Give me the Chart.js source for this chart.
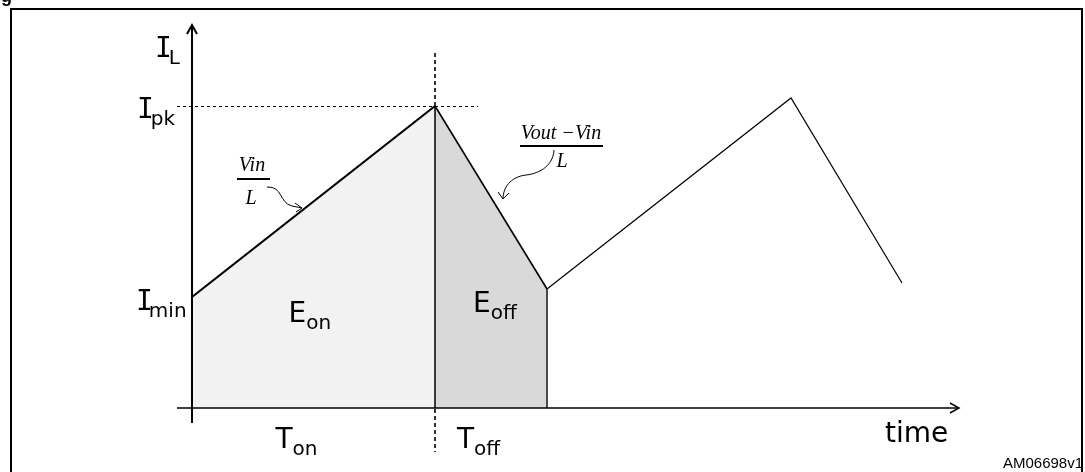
<!DOCTYPE html>
<html>
<head>
<meta charset="utf-8">
<script src="https://cdn.jsdelivr.net/npm/chart.js@4"></script>
<style>
  html, body { margin: 0; padding: 0; background: #fff; }
  #wrap { width: 1085px; height: 472px; position: relative; }
</style>
</head>
<body>
<div id="wrap"><canvas id="inductorChart"></canvas></div>
<script>
// Inductor current waveform: switch-on ramp, switch-off ramp, next cycle
const timePts = [0, 2.43, 3.55, 5.99, 7.10];
const currentPts = [1.11, 3.02, 1.19, 3.10, 1.25];
const segWidths = [2.2, 1.6, 1.2, 1.2];

// axis window (time units, current units)
const xRange = [-1.92, 8.93];
const yRange = [-0.64, 4.08];

// label texts
const levelLabels = [['I', 'L'], ['I', 'pk'], ['I', 'min']];
const energyLabels = [['E', 'on'], ['E', 'off']];
const phaseLabels = [['T', 'on'], ['T', 'off']];
const timeLabel = 'time';
const figCode = 'AM06698v1';

const pts = timePts.map((t, i) => ({ x: t, y: currentPts[i] }));
const Ton = timePts[1], Toff = timePts[2];
const Ipk = currentPts[1], Imin = currentPts[0];

const MAIN = "28px 'DejaVu Sans'";
const SUB = "20px 'DejaVu Sans'";
const MONO = "28px 'DejaVu Sans Mono'";

function label(ctx, x, y, main, sub, mainFont, subGap) {
  ctx.font = mainFont || MAIN;
  ctx.fillText(main, x, y);
  const w = ctx.measureText(main).width;
  ctx.font = SUB;
  ctx.fillText(sub, x + w + (subGap || 0), y + 7);
}

function arrowHead(ctx, tx, ty, ax, ay, bx, by) {
  ctx.beginPath();
  ctx.moveTo(ax, ay);
  ctx.lineTo(tx, ty);
  ctx.lineTo(bx, by);
  ctx.stroke();
}

function dashed(ctx, x1, y1, x2, y2, dash, width) {
  ctx.setLineDash(dash);
  ctx.lineWidth = width;
  ctx.beginPath();
  ctx.moveTo(x1, y1);
  ctx.lineTo(x2, y2);
  ctx.stroke();
  ctx.setLineDash([]);
}

const diagramPlugin = {
  id: 'diagram',
  afterDatasetsDraw(chart) {
    const ctx = chart.ctx;
    const xs = chart.scales.x, ys = chart.scales.y;
    const px = v => xs.getPixelForValue(v);
    const py = v => ys.getPixelForValue(v);
    const x0 = px(0), yb = py(0), xOn = px(Ton), xOff = px(Toff), yPk = py(Ipk), yMin = py(Imin);
    ctx.save();
    ctx.strokeStyle = '#000';
    ctx.fillStyle = '#000';
    ctx.lineCap = 'butt';

    // frame
    ctx.lineWidth = 2;
    ctx.strokeRect(11, 9, 1071, 470);
    ctx.font = "bold 18px 'Liberation Sans'";
    ctx.fillText('g', 1, 2);

    // dashed guides: peak level, and the switching instant above the peak / below the axis
    dashed(ctx, px(-0.15), yPk + 0.5, px(2.86), yPk + 0.5, [3, 3], 1);
    dashed(ctx, xOn, py(3.55), xOn, yPk, [4, 3], 1.6);
    dashed(ctx, xOn, yb + 1, xOn, py(-0.44), [4, 3], 1.6);

    // axes
    ctx.lineWidth = 2;
    ctx.beginPath();
    ctx.moveTo(x0, py(-0.15));
    ctx.lineTo(x0, py(3.83));
    ctx.stroke();
    arrowHead(ctx, x0, py(3.83), x0 - 5, py(3.83) + 9, x0 + 5, py(3.83) + 9);
    ctx.lineWidth = 1.5;
    ctx.beginPath();
    ctx.moveTo(px(-0.15), yb);
    ctx.lineTo(px(7.67), yb);
    ctx.stroke();
    arrowHead(ctx, px(7.67), yb, px(7.67) - 9, yb - 5, px(7.67) - 9, yb + 5);

    // level labels on the current axis
    ctx.textBaseline = 'alphabetic';
    label(ctx, x0 - 37, py(3.51), levelLabels[0][0], levelLabels[0][1], MONO, -3);
    label(ctx, x0 - 55, yPk + 12, levelLabels[1][0], levelLabels[1][1], MONO, -3);
    label(ctx, x0 - 56, yMin + 13, levelLabels[2][0], levelLabels[2][1], MONO, -4);

    // energy and phase labels
    label(ctx, (x0 + xOn) / 2 - 25, yMin + 25, energyLabels[0][0], energyLabels[0][1]);
    label(ctx, (xOn + xOff) / 2 - 18, yMin + 15, energyLabels[1][0], energyLabels[1][1]);
    label(ctx, (x0 + xOn) / 2 - 38, yb + 40, phaseLabels[0][0], phaseLabels[0][1]);
    label(ctx, xOn + 22, yb + 40, phaseLabels[1][0], phaseLabels[1][1]);
    ctx.font = MAIN;
    ctx.fillText(timeLabel, px(6.93), yb + 34);

    ctx.font = "15px 'Liberation Sans'";
    ctx.textAlign = 'right';
    ctx.fillText(figCode, 1083, 468);

    // slope annotations
    ctx.font = "italic 20px 'Liberation Serif'";
    ctx.textAlign = 'center';
    ctx.fillText('Vin', 252, 171);
    ctx.fillText('L', 251, 204);
    ctx.fillText('Vout \u2212Vin', 561, 139);
    ctx.fillText('L', 562, 167);
    ctx.lineWidth = 2;
    ctx.beginPath();
    ctx.moveTo(237, 179); ctx.lineTo(270, 179);
    ctx.moveTo(520, 146); ctx.lineTo(603, 146);
    ctx.stroke();

    ctx.lineWidth = 1;
    ctx.beginPath();
    ctx.moveTo(267, 187);
    ctx.bezierCurveTo(283, 186, 279, 203, 292, 206);
    ctx.quadraticCurveTo(297, 207, 302, 208);
    ctx.stroke();
    arrowHead(ctx, 302, 208, 295, 203, 296, 212);

    ctx.beginPath();
    ctx.moveTo(554, 150);
    ctx.bezierCurveTo(553, 168, 536, 174, 526, 175);
    ctx.bezierCurveTo(510, 177, 503, 188, 503, 199);
    ctx.stroke();
    arrowHead(ctx, 503, 199, 498, 192, 509, 193);

    ctx.restore();
  }
};

new Chart(document.getElementById('inductorChart'), {
  type: 'scatter',
  data: {
    datasets: [
      {
        // energy stored during the on-time
        data: pts.slice(0, 2),
        order: 3,
        showLine: true,
        fill: 'origin',
        backgroundColor: '#f2f2f2',
        borderWidth: 0,
        pointRadius: 0
      },
      {
        // energy released during the off-time
        data: pts.slice(1, 3),
        order: 3,
        showLine: true,
        fill: 'origin',
        backgroundColor: '#d9d9d9',
        borderWidth: 0,
        pointRadius: 0
      },
      {
        // switch edge at Ton
        data: [{ x: Ton, y: 0 }, { x: Ton, y: Ipk }],
        order: 2,
        showLine: true,
        borderColor: '#000',
        borderWidth: 1.5,
        pointRadius: 0
      },
      {
        // end of off-time
        data: [{ x: Toff, y: 0 }, { x: Toff, y: currentPts[2] }],
        order: 2,
        showLine: true,
        borderColor: '#222',
        borderWidth: 1.6,
        pointRadius: 0
      },
      {
        // inductor current
        data: pts,
        order: 1,
        showLine: true,
        borderColor: '#000',
        borderWidth: 1.3,
        borderJoinStyle: 'miter',
        pointRadius: 0,
        segment: { borderWidth: c => segWidths[c.p0DataIndex] }
      }
    ]
  },
  options: {
    responsive: true,
    maintainAspectRatio: false,
    animation: false,
    events: [],
    layout: { padding: 0 },
    plugins: { legend: { display: false }, tooltip: { enabled: false } },
    scales: {
      x: { type: 'linear', min: xRange[0], max: xRange[1], display: false },
      y: { type: 'linear', min: yRange[0], max: yRange[1], display: false }
    }
  },
  plugins: [diagramPlugin]
});
</script>
</body>
</html>
